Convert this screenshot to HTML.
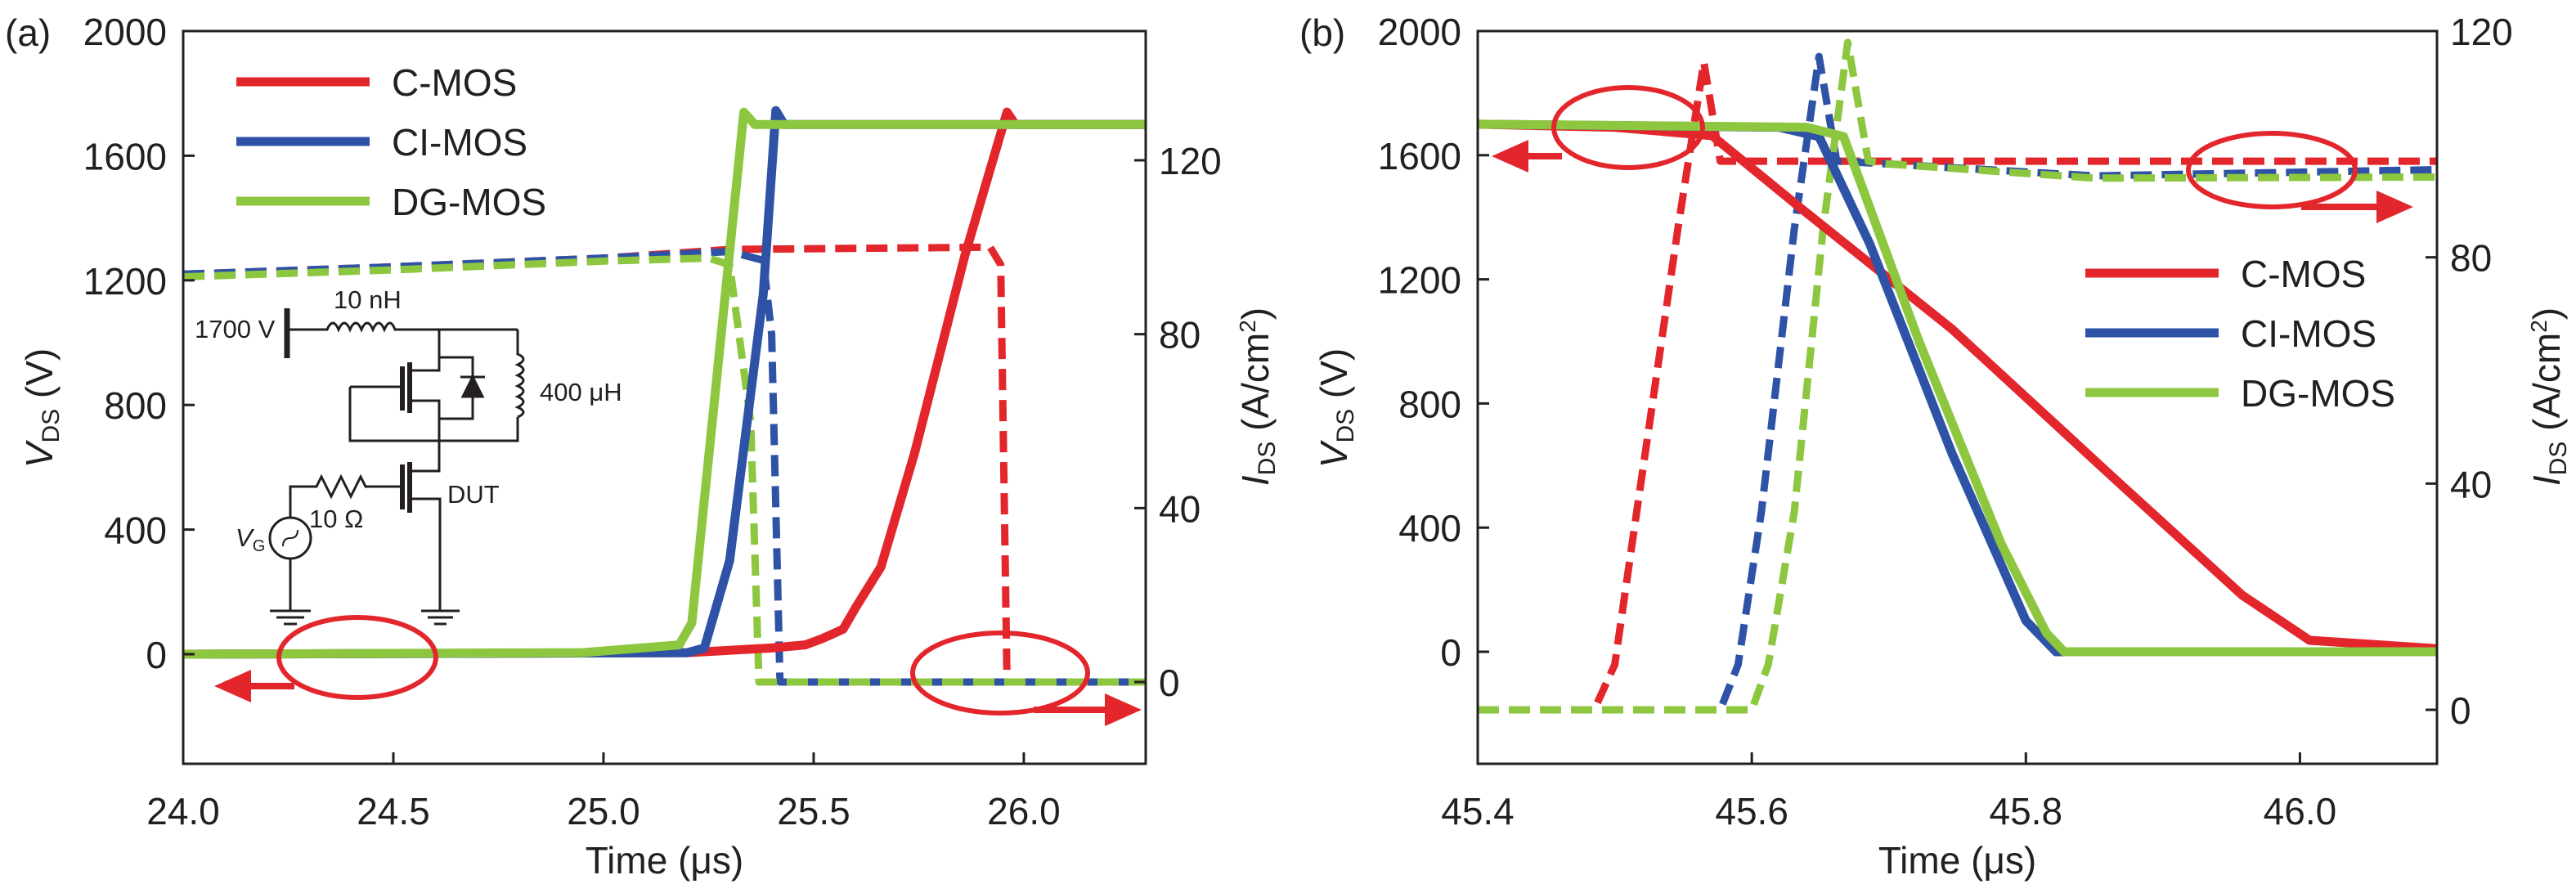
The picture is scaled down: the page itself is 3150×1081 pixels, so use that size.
<!DOCTYPE html>
<html><head><meta charset="utf-8">
<style>
body{margin:0;background:#fff;}
svg{display:block;font-family:"Liberation Sans",sans-serif;}
.tk{font-size:46px;fill:#231f20;}
.lg{font-size:46px;fill:#231f20;}
.ct{font-size:31px;fill:#231f20;}
</style></head>
<body>
<svg id="fig" width="3150" height="1081" viewBox="0 0 3150 1081" xmlns="http://www.w3.org/2000/svg">
<g id="pa"></g>
<g id="pb"></g>
<g id="circuit" stroke="#231f20" fill="none" stroke-width="3">
<line x1="351" y1="377" x2="351" y2="438" stroke-width="7"/>
<path d="M351 403 H400 q7 -16 14 0 q7 -16 14 0 q7 -16 14 0 q7 -16 14 0 q7 -16 14 0 q7 -16 13 0 H633"/>
<path d="M537 403 V453 H503"/>
<path d="M537 437 H578 V512 H537"/>
<line x1="563" y1="461" x2="593" y2="461"/>
<polygon points="578,461 566,485 590,485" fill="#231f20"/>
<line x1="492" y1="448" x2="492" y2="502" stroke-width="6"/>
<line x1="501" y1="443" x2="501" y2="505" stroke-width="6"/>
<path d="M428 473 H492"/>
<path d="M501 490 H537 V576 H501"/>
<path d="M428 473 V539 H633 V510"/>
<path d="M633 403 V433 q14 6 0 13 q14 6 0 13 q14 6 0 13 q14 6 0 13 q14 6 0 13 q14 6 0 12"/>
<line x1="492" y1="568" x2="492" y2="623" stroke-width="6"/>
<line x1="501" y1="565" x2="501" y2="627" stroke-width="6"/>
<path d="M355 633 V595 H387 l6 -12 l12 24 l12 -24 l12 24 l12 -24 l6 12 H492"/>
<circle cx="355" cy="658" r="25"/>
<path d="M346 668 q0 -10 9 -10 q9 0 9 -10" stroke-width="2"/>
<path d="M355 683 V747"/>
<path d="M501 610 H538 V747"/>
<path d="M330 747 H380 M338 755 H372 M347 763 H363 M515 747 H562 M523 755 H554 M531 763 H546"/>
</g>
<g>
<text class="ct" x="238" y="413">1700 V</text>
<text class="ct" x="408" y="377">10 nH</text>
<text class="ct" x="660" y="490">400 μH</text>
<text class="ct" x="547" y="615">DUT</text>
<text class="ct" x="378" y="645">10 Ω</text>
<text class="ct" x="288" y="668"><tspan font-style="italic">V</tspan><tspan font-size="20" dy="6">G</tspan></text>
</g>
</svg>
<script>
// ---------- Panel (a) data ----------
const aTicksX = [24.0, 24.5, 25.0, 25.5, 26.0];
const aTickLabelsX = ["24.0", "24.5", "25.0", "25.5", "26.0"];
const vTicks = [0, 400, 800, 1200, 1600, 2000];
const aTicksI = [0, 40, 80, 120];
const aCmosVt = [24.0, 25.2, 25.4, 25.48, 25.52, 25.57, 25.6, 25.66, 25.74, 25.86, 25.96, 25.98, 26.29];
const aCmosV  = [0, 5, 20, 30, 50, 80, 150, 280, 645, 1281, 1740, 1700, 1700];
const aCimosVt = [24.0, 25.2, 25.24, 25.3, 25.38, 25.41, 25.43, 26.29];
const aCimosV  = [0, 5, 20, 300, 1155, 1745, 1700, 1700];
const aDgVt = [24.0, 24.95, 25.18, 25.21, 25.334, 25.36, 26.29];
const aDgV  = [0, 5, 30, 100, 1740, 1700, 1700];
const aCmosIt = [24.0, 24.5, 25.0, 25.3, 25.92, 25.945, 25.96, 25.97, 26.29];
const aCmosI  = [93.8, 95.5, 97.5, 99.5, 100, 96, 0, 0, 0];
const aCimosIt = [24.0, 24.5, 25.0, 25.3, 25.38, 25.4, 25.42, 25.43, 26.29];
const aCimosI  = [93.8, 95.5, 97.5, 99, 97, 80, 0, 0, 0];
const aDgIt = [24.0, 24.5, 25.0, 25.25, 25.3, 25.35, 25.37, 25.38, 26.29];
const aDgI  = [93.2, 94.8, 96.8, 97.5, 96, 60, 0, 0, 0];
// ---------- Panel (b) data ----------
const bTicksX = [45.4, 45.6, 45.8, 46.0];
const bTickLabelsX = ["45.4", "45.6", "45.8", "46.0"];
const bTicksI = [0, 40, 80, 120];
const bCmosVt = [45.4, 45.5, 45.571, 45.637, 45.746, 45.867, 45.958, 46.007, 46.1];
const bCmosV  = [1700, 1690, 1663, 1425, 1040, 548, 182, 37, 10];
const bCimosVt = [45.4, 45.62, 45.649, 45.686, 45.746, 45.8, 45.822, 46.1];
const bCimosV  = [1700, 1690, 1660, 1315, 640, 100, 0, 0];
const bDgVt = [45.4, 45.64, 45.667, 45.722, 45.782, 45.815, 45.828, 46.1];
const bDgV  = [1700, 1690, 1660, 1000, 348, 60, 0, 0];
const bCmosIt = [45.4, 45.485, 45.5, 45.516, 45.546, 45.565, 45.577, 45.6, 46.1];
const bCmosI  = [0, 0, 8, 35, 85, 114.5, 97, 97, 97];
const bCimosIt = [45.4, 45.577, 45.59, 45.607, 45.631, 45.649, 45.662, 45.7, 45.85, 46.1];
const bCimosI  = [0, 0, 8, 35, 85, 115.5, 97, 96.5, 94.4, 95.5];
const bDgIt = [45.4, 45.6, 45.612, 45.631, 45.652, 45.67, 45.685, 45.7, 45.85, 46.1];
const bDgI  = [0, 0, 8, 35, 85, 118, 97, 96.5, 94, 94.2];
const seriesNames = ["C-MOS", "CI-MOS", "DG-MOS"];
const colors = ["#e3262c", "#2d52a6", "#8dc63f"];

const NS = "http://www.w3.org/2000/svg";
function mk(parent, tag, attrs) {
  const e = document.createElementNS(NS, tag);
  for (const k in attrs) e.setAttribute(k, attrs[k]);
  parent.appendChild(e);
  return e;
}
function lin(d0, d1, r0, r1) { return v => r0 + (v - d0) * (r1 - r0) / (d1 - d0); }

function panel(g, cfg) {
  const sx = lin(cfg.x0, cfg.x1, cfg.L, cfg.R);
  const sv = lin(0, 2000, cfg.v0y, cfg.v2000y);
  const si = lin(0, cfg.iRefV, cfg.i0y, cfg.iRefY);
  const T = 38, B = 934;
  const sets = [[cfg.cVt, cfg.cV, cfg.cIt, cfg.cI], [cfg.bVt, cfg.bV, cfg.bIt, cfg.bI], [cfg.gVt, cfg.gV, cfg.gIt, cfg.gI]];
  const clip = mk(g, "clipPath", {id: cfg.id + "clip"});
  mk(clip, "rect", {x: cfg.L, y: T, width: cfg.R - cfg.L + 12, height: B - T});
  const sg = mk(g, "g", {"clip-path": "url(#" + cfg.id + "clip)"});
  const order = [0, 1, 2];
  order.forEach(k => {
    const s = sets[k];
    const d = s[2].map((t, i) => (i ? "L" : "M") + sx(t).toFixed(1) + " " + si(s[3][i]).toFixed(1)).join(" ");
    const p = mk(sg, "path", {d: d, fill: "none", stroke: colors[k], "stroke-width": 9, "stroke-dasharray": "26 12", "stroke-linejoin": "round"});
    
    
  });
  order.forEach(k => {
    const s = sets[k];
    const d = s[0].map((t, i) => (i ? "L" : "M") + sx(t).toFixed(1) + " " + sv(s[1][i]).toFixed(1)).join(" ");
    const p = mk(sg, "path", {d: d, fill: "none", stroke: colors[k], "stroke-width": 11, "stroke-linejoin": "round"});
    
    
  });
  const fr = mk(g, "rect", {x: cfg.L, y: T, width: cfg.R - cfg.L, height: B - T, fill: "none", stroke: "#231f20", "stroke-width": 3});
  
  
  cfg.xt.forEach((v, i) => {
    const x = sx(v);
    mk(g, "line", {x1: x, x2: x, y1: B, y2: B - 14, stroke: "#231f20", "stroke-width": 3});
    const t = mk(g, "text", {x: x, y: 1008, "text-anchor": "middle", class: "tk"});
    t.textContent = cfg.xl[i];
    
    
  });
  vTicks.forEach(v => {
    const y = sv(v);
    mk(g, "line", {x1: cfg.L, x2: cfg.L + 14, y1: y, y2: y, stroke: "#231f20", "stroke-width": 3});
    const t = mk(g, "text", {x: cfg.L - 20, y: y + 17, "text-anchor": "end", class: "tk"});
    t.textContent = v;
    
    
  });
  cfg.it.forEach(v => {
    const y = si(v);
    mk(g, "line", {x1: cfg.R, x2: cfg.R - 14, y1: y, y2: y, stroke: "#231f20", "stroke-width": 3});
    const t = mk(g, "text", {x: cfg.R + 16, y: y + 17, class: "tk"});
    t.textContent = v;
    
    
  });
  const xt = mk(g, "text", {x: (cfg.L + cfg.R) / 2, y: 1068, "text-anchor": "middle", class: "tk"});
  xt.textContent = "Time (μs)";
  
  
  const yl = mk(g, "text", {transform: "translate(" + (cfg.L - 160) + ",499) rotate(-90)", "text-anchor": "middle", class: "tk"});
  yl.innerHTML = '<tspan font-style="italic">V</tspan><tspan font-size="30" dy="8">DS</tspan><tspan dy="-8"> (V)</tspan>';
  
  
  const yr = mk(g, "text", {transform: "translate(" + (cfg.R + 150) + ",485) rotate(-90)", "text-anchor": "middle", class: "tk"});
  yr.innerHTML = '<tspan font-style="italic">I</tspan><tspan font-size="30" dy="8">DS</tspan><tspan dy="-8"> (A/cm</tspan><tspan font-size="28" dy="-16">2</tspan><tspan dy="16">)</tspan>';
  
  
  const pl = mk(g, "text", {x: cfg.L - 218, y: 56, class: "tk"});
  pl.textContent = cfg.label;
  
  
  seriesNames.forEach((n, k) => {
    const y = cfg.legY + k * 73;
    const l = mk(g, "line", {x1: cfg.legX, x2: cfg.legX + 163, y1: y, y2: y, stroke: colors[k], "stroke-width": 11});
    
    
    const t = mk(g, "text", {x: cfg.legX + 190, y: y + 17, class: "lg"});
    t.textContent = n;
    
    
  });
  cfg.ann.forEach(a => {
    const e = mk(g, "ellipse", {cx: a[0], cy: a[1], rx: a[2], ry: a[3], fill: "none", stroke: "#e3262c", "stroke-width": 6});
    
    
    const dir = Math.sign(a[6] - a[4]);
    const l = mk(g, "line", {x1: a[4], x2: a[6] - dir * 30, y1: a[5], y2: a[5], stroke: "#e3262c", "stroke-width": 8});
    
    
    const h = mk(g, "polygon", {points: a[6] + "," + a[5] + " " + (a[6] - dir * 45) + "," + (a[5] - 20) + " " + (a[6] - dir * 45) + "," + (a[5] + 20), fill: "#e3262c"});
    
    
  });
}

panel(document.getElementById("pa"), {
  id: "a", label: "(a)", x0: 24.0, x1: 26.29, L: 224, R: 1401,
  v0y: 800, v2000y: 38, i0y: 834, iRefV: 120, iRefY: 196,
  xt: aTicksX, xl: aTickLabelsX, it: aTicksI,
  cVt: aCmosVt, cV: aCmosV, cIt: aCmosIt, cI: aCmosI,
  bVt: aCimosVt, bV: aCimosV, bIt: aCimosIt, bI: aCimosI,
  gVt: aDgVt, gV: aDgV, gIt: aDgIt, gI: aDgI,
  legX: 289, legY: 100,
  ann: [[437, 804, 96, 49, 360, 839, 262], [1223, 823, 107, 49, 1264, 868, 1396]]
});
panel(document.getElementById("pb"), {
  id: "b", label: "(b)", x0: 45.4, x1: 46.1, L: 1807, R: 2980,
  v0y: 797, v2000y: 38, i0y: 868, iRefV: 120, iRefY: 38,
  xt: bTicksX, xl: bTickLabelsX, it: bTicksI,
  cVt: bCmosVt, cV: bCmosV, cIt: bCmosIt, cI: bCmosI,
  bVt: bCimosVt, bV: bCimosV, bIt: bCimosIt, bI: bCimosI,
  gVt: bDgVt, gV: bDgV, gIt: bDgIt, gI: bDgI,
  legX: 2550, legY: 334,
  ann: [[1991, 156, 91, 49, 1910, 191, 1824], [2778, 208, 102, 45, 2814, 253, 2951]]
});
</script>
</body></html>
